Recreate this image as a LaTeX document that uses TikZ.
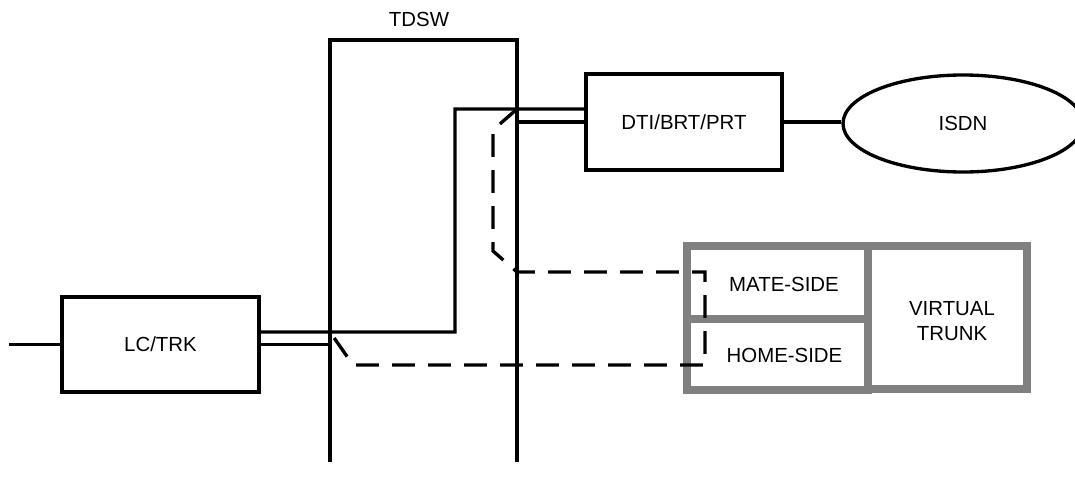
\documentclass[tikz,border=0pt]{standalone}
\usepackage{fontspec}
\setmainfont{Liberation Sans}
\usetikzlibrary{shapes.geometric}
\begin{document}
\begin{tikzpicture}[x=0.75pt,y=-0.75pt,
  lbl/.style={font=\fontsize{15.3}{18.5}\selectfont, align=center},
  blk/.style={lbl, draw=black, line width=2.5pt, rectangle, inner sep=0pt},
  gcell/.style={draw=vgray, line width=6pt, rectangle, inner sep=0pt},
  wire/.style={draw=black, line width=2.5pt},
  dpath/.style={draw=black, line width=2.5pt, dash pattern=on 17pt off 10pt}]
\definecolor{vgray}{RGB}{128,128,128}
\useasboundingbox (0,0) rectangle (1075,489);
\clip (0,0) rectangle (1075,489);

% TDSW switch frame (open at the bottom)
\coordinate (tdswBL) at (330,462);
\coordinate (tdswTL) at (330,40);
\coordinate (tdswTR) at (517,40);
\coordinate (tdswBR) at (517,462);
\draw[wire] (tdswBL) -- (tdswTL) -- (tdswTR) -- (tdswBR);
\node[lbl] (tdsw) at (419,19.5) {TDSW};

% blocks
\node[blk, minimum width=147.75pt, minimum height=71.25pt] (lctrk) at (160.5,344.5) {LC/TRK};
\node[blk, minimum width=147pt, minimum height=72pt] (dti) at (684,122) {DTI/BRT/PRT};
\node[lbl, draw=black, line width=2.5pt, ellipse, inner sep=0pt, minimum width=180pt, minimum height=72.75pt] (isdn) at (963,123.5) {ISDN};

% virtual trunk group
\node[gcell, minimum width=135.75pt, minimum height=54.75pt] (mate) at (777.5,282.5) {};
\node[gcell, minimum width=135.75pt, minimum height=53.25pt] (home) at (777.5,354.25) {};
\node[gcell, minimum width=119.6pt, minimum height=107.6pt] (vt) at (947.75,317.75) {};
\node[lbl] (matet) at (784,284.5) {MATE-SIDE};
\node[lbl] (homet) at (784.5,355.5) {HOME-SIDE};
\node[lbl] (vtt) at (952,321) {VIRTUAL\\TRUNK};

% connectors
\coordinate (in) at (9,344.5);
\draw[wire] (in) -- (lctrk.west);
\draw[wire] (dti.east) -- (dti.east -| isdn.west);
\coordinate (bend1) at (455,332);
\coordinate (bend2) at (455,109);
\draw[wire] ([yshift=9.4pt]lctrk.east) -- (bend1) -- (bend2) -- ([yshift=9.75pt]dti.west);
\draw[wire] (lctrk.east) -- (lctrk.east -| tdswBL);
\draw[wire] (dti.west -| tdswBR) -- (dti.west);

% dashed path
\coordinate (d1) at (517,109);
\coordinate (d2) at (493,130);
\coordinate (d3) at (493,251);
\coordinate (d4) at (517,272);
\coordinate (d5) at (705,272);
\coordinate (d6) at (705,365);
\coordinate (d7) at (353,365);
\coordinate (d8) at (330,332);
\draw[dpath] (d1) -- (d2) -- (d3) -- (d4) -- (d5) -- (d6) -- (d7) -- (d8);
\end{tikzpicture}
\end{document}
